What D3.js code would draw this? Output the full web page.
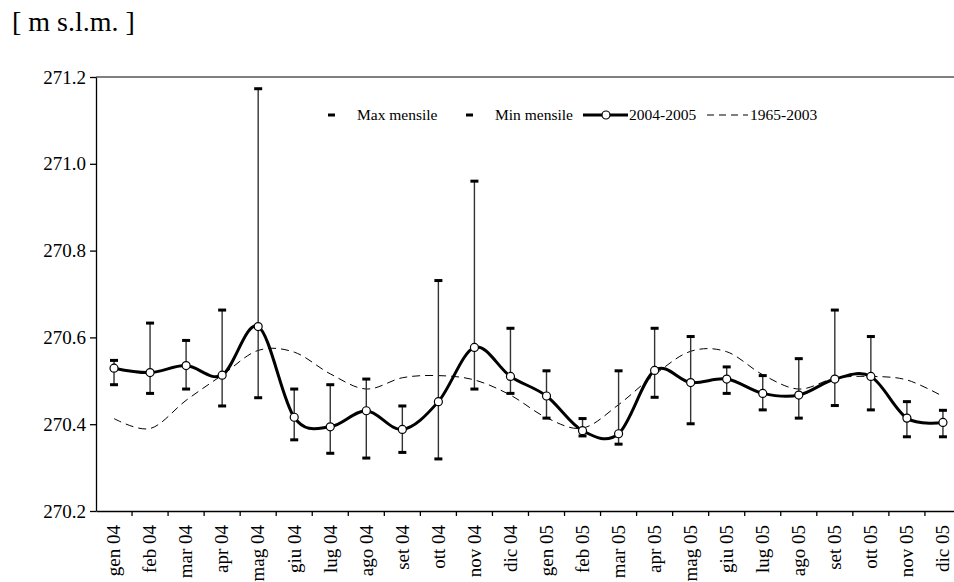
<!DOCTYPE html>
<html>
<head>
<meta charset="utf-8">
<script src="https://cdn.jsdelivr.net/npm/d3@7"></script>
<style>
	body { margin: 0; background: #fff; }
	text { font-family: 'Liberation Serif', 'Times New Roman', serif; fill: #000; }
</style>
</head>
<body>
<div class="canvas"></div>
<script>
const dims = {width: 954, height: 582};

// categories
const months = ['gen 04', 'feb 04', 'mar 04', 'apr 04', 'mag 04', 'giu 04', 'lug 04', 'ago 04', 'set 04', 'ott 04', 'nov 04', 'dic 04',
	'gen 05', 'feb 05', 'mar 05', 'apr 05', 'mag 05', 'giu 05', 'lug 05', 'ago 05', 'set 05', 'ott 05', 'nov 05', 'dic 05'];

// series (m s.l.m.)
const level0405 = [270.529, 270.519, 270.535, 270.513, 270.625, 270.416, 270.394, 270.431, 270.388, 270.452, 270.577, 270.510,
	270.465, 270.385, 270.378, 270.524, 270.496, 270.504, 270.471, 270.467, 270.504, 270.510, 270.414, 270.404];
const maxMensile = [270.547, 270.633, 270.593, 270.663, 271.173, 270.481, 270.491, 270.504, 270.442, 270.731, 270.960, 270.621,
	270.523, 270.413, 270.523, 270.621, 270.602, 270.532, 270.512, 270.551, 270.663, 270.602, 270.452, 270.432];
const minMensile = [270.491, 270.471, 270.481, 270.442, 270.461, 270.364, 270.333, 270.322, 270.335, 270.320, 270.481, 270.471,
	270.414, 270.373, 270.354, 270.462, 270.401, 270.471, 270.433, 270.414, 270.443, 270.433, 270.371, 270.371];
const mean6503 = [270.413, 270.390, 270.455, 270.513, 270.570, 270.566, 270.516, 270.481, 270.507, 270.512, 270.502, 270.467,
	270.415, 270.391, 270.445, 270.514, 270.568, 270.567, 270.514, 270.481, 270.506, 270.510, 270.502, 270.464];

// tick labels
const yTicks = [270.2, 270.4, 270.6, 270.8, 271.0, 271.2];

const svg = d3.select('.canvas')
	.append('svg')
	.attr('width', dims.width)
	.attr('height', dims.height);

const x = d3.scaleBand()
	.domain(months)
	.range([96, 96 + 24 * 36.04]);

const y = d3.scaleLinear()
	.domain([270.2, 271.2])
	.range([511, 77]);

const cx = d => x(d) + x.bandwidth() / 2;

// unit label
svg.append('text')
	.attr('x', 12)
	.attr('y', 31)
	.attr('font-size', 28)
	.text('[ m s.l.m. ]');

// plot area top border
svg.append('line')
	.attr('x1', 96).attr('x2', x.range()[1])
	.attr('y1', y(271.2)).attr('y2', y(271.2))
	.attr('stroke', '#000').attr('stroke-width', 1);

// y axis
const yAxis = svg.append('g')
	.attr('transform', 'translate(96, 0)')
	.call(d3.axisLeft(y).tickValues(yTicks).tickFormat(d3.format('.1f')).tickSize(6).tickSizeOuter(0));
yAxis.select('.domain').attr('stroke', '#000').attr('stroke-width', 1.3);
yAxis.selectAll('.tick line').attr('stroke', '#000').attr('stroke-width', 1.3);
yAxis.selectAll('.tick text')
	.attr('font-family', "'Liberation Serif', serif")
	.attr('font-size', 19)
	.attr('x', -10);

// x axis
const xAxis = svg.append('g')
	.attr('transform', `translate(0, ${y(270.2)})`)
	.call(d3.axisBottom(x).tickSize(0).tickSizeOuter(0));
xAxis.select('.domain').attr('stroke', '#000').attr('stroke-width', 1.3);
xAxis.selectAll('.tick text')
	.attr('font-family', "'Liberation Serif', serif")
	.attr('font-size', 19)
	.attr('transform', 'rotate(-90)')
	.attr('text-anchor', 'end')
	.attr('x', -14)
	.attr('y', 0)
	.attr('dy', '0.33em');

// boundary ticks between months
xAxis.selectAll('.bound')
	.data(months.slice(1))
	.enter()
	.append('line')
		.attr('class', 'bound')
		.attr('x1', d => x(d)).attr('x2', d => x(d))
		.attr('y1', 0).attr('y2', 5)
		.attr('stroke', '#000').attr('stroke-width', 1.3);

// 1965-2003 dashed line
svg.append('path')
	.datum(mean6503)
	.attr('fill', 'none')
	.attr('stroke', '#000')
	.attr('stroke-width', 1)
	.attr('stroke-dasharray', '8,5')
	.attr('d', d3.line()
		.x((d, i) => cx(months[i]))
		.y(d => y(d))
		.curve(d3.curveCardinal.tension(0)));

// error bars
const bars = svg.selectAll('.bar')
	.data(months)
	.enter()
	.append('g')
		.attr('class', 'bar');

bars.append('line')
	.attr('x1', d => cx(d)).attr('x2', d => cx(d))
	.attr('y1', (d, i) => y(maxMensile[i]))
	.attr('y2', (d, i) => y(minMensile[i]))
	.attr('stroke', '#333')
	.attr('stroke-width', 1.4);

[maxMensile, minMensile].forEach(series => {
	bars.append('rect')
		.attr('x', d => cx(d) - 4)
		.attr('y', (d, i) => y(series[i]) - 1.5)
		.attr('width', 8)
		.attr('height', 3)
		.attr('fill', '#000');
});

// 2004-2005 line
svg.append('path')
	.datum(level0405)
	.attr('fill', 'none')
	.attr('stroke', '#000')
	.attr('stroke-width', 3)
	.attr('d', d3.line()
		.x((d, i) => cx(months[i]))
		.y(d => y(d))
		.curve(d3.curveCardinal.tension(0)));

svg.selectAll('.pt')
	.data(level0405)
	.enter()
	.append('circle')
		.attr('class', 'pt')
		.attr('cx', (d, i) => cx(months[i]))
		.attr('cy', d => y(d))
		.attr('r', 4)
		.attr('fill', '#fff')
		.attr('stroke', '#000')
		.attr('stroke-width', 1.2);

// legend
const legend = svg.append('g').attr('font-size', 15.5);
const ly = 115;

legend.append('rect').attr('x', 328).attr('y', ly - 1.5).attr('width', 7).attr('height', 3).attr('fill', '#000');
legend.append('text').attr('x', 357).attr('y', ly + 5).text('Max mensile');

legend.append('rect').attr('x', 466).attr('y', ly - 1.5).attr('width', 7).attr('height', 3).attr('fill', '#000');
legend.append('text').attr('x', 495).attr('y', ly + 5).text('Min mensile');

legend.append('line').attr('x1', 583).attr('x2', 628).attr('y1', ly).attr('y2', ly)
	.attr('stroke', '#000').attr('stroke-width', 3);
legend.append('circle').attr('cx', 606).attr('cy', ly).attr('r', 4)
	.attr('fill', '#fff').attr('stroke', '#000').attr('stroke-width', 1.2);
legend.append('text').attr('x', 629).attr('y', ly + 5).text('2004-2005');

legend.append('line').attr('x1', 707).attr('x2', 748).attr('y1', ly).attr('y2', ly)
	.attr('stroke', '#000').attr('stroke-width', 1).attr('stroke-dasharray', '7,5');
legend.append('text').attr('x', 750).attr('y', ly + 5).text('1965-2003');
</script>
</body>
</html>
